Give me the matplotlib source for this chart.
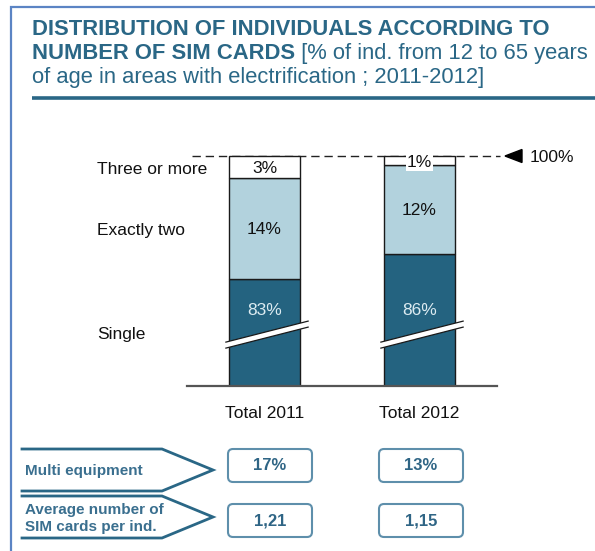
import matplotlib.pyplot as plt
from matplotlib.patches import FancyBboxPatch, Polygon

plt.rcParams['font.family'] = ['Liberation Sans', 'DejaVu Sans']

# Stacked shares (% of individuals), bottom to top
years = ["Total 2011", "Total 2012"]
single = [82.9, 86.4]
exactly_two = [14.1, 12.4]
three_plus = [3.0, 1.2]
segment_names = ["Single", "Exactly two", "Three or more"]

multi_equipment = ["17%", "13%"]
avg_sim_cards = ["1,21", "1,15"]

DARK = "#246380"
LIGHT = "#B2D2DD"
TEAL = "#2A6786"
BOX_EDGE = "#5E8FAB"

W, H = 595, 551
fig = plt.figure(figsize=(W / 100, H / 100), dpi=100)

# full-figure overlay in pixel coordinates (y down)
bg = fig.add_axes([0, 0, 1, 1])
bg.set_xlim(0, W)
bg.set_ylim(H, 0)
bg.axis("off")

# outer frame (only top and left edges are visible)
bg.plot([11, 11, W + 5], [H + 5, 7, 7], color="#5B84C4", lw=1.6, solid_joinstyle="miter")

# title
TFS = 15.8
bold_kw = dict(fontsize=TFS, fontweight="bold", color=TEAL, va="baseline")
norm_kw = dict(fontsize=TFS, color=TEAL, va="baseline")
bg.text(32, 35, "DISTRIBUTION OF INDIVIDUALS ACCORDING TO", **bold_kw)
t2 = bg.text(32, 59, "NUMBER OF SIM CARDS", **bold_kw)
bg.annotate(" [% of ind. from 12 to 65 years", xy=(1, 0), xycoords=t2,
            fontsize=TFS, color=TEAL, va="bottom", ha="left")
bg.text(32, 83, "of age in areas with electrification ; 2011-2012]", **norm_kw)
bg.plot([32, W + 5], [98, 98], color=TEAL, lw=2.6, solid_capstyle="butt")

# segment names on the left
FS = 12.5
bg.text(97, 168, segment_names[2], fontsize=FS, va="center_baseline", color="#111111")
bg.text(97, 229, segment_names[1], fontsize=FS, va="center_baseline", color="#111111")
bg.text(97, 333, segment_names[0], fontsize=FS, va="center_baseline", color="#111111")

# bar chart axes: 7.17 px per percentage point, bottom truncated
px_per_pt = 7.17
ax_top_px, ax_bot_px = 140, 386
ax_left_px, ax_right_px = 187, 497
ax = fig.add_axes([ax_left_px / W, 1 - ax_bot_px / H,
                   (ax_right_px - ax_left_px) / W, (ax_bot_px - ax_top_px) / H])
ax.set_xlim(-0.5, 1.5)
ax.set_ylim(100 - (ax_bot_px - 156) / px_per_pt, 100 + (156 - ax_top_px) / px_per_pt)
ax.axis("off")

x = list(range(len(years)))
bw = 0.46
mid = [s + t for s, t in zip(single, exactly_two)]
ax.bar(x, single, bw, color=DARK, edgecolor="#1a1a1a", lw=1.0, zorder=2)
ax.bar(x, exactly_two, bw, bottom=single, color=LIGHT, edgecolor="#1a1a1a", lw=1.0, zorder=2)
ax.bar(x, three_plus, bw, bottom=mid, color="white", edgecolor="#1a1a1a", lw=1.0, zorder=2)

# baseline
ax.axhline(ax.get_ylim()[0], color="#555555", lw=1.6, zorder=3, clip_on=False)

# 100% reference line with marker
ax.plot([-0.468, 1.52], [100, 100], color="#222222", lw=1.0, dashes=(6, 3.5), zorder=1, clip_on=False)
bg.add_patch(Polygon([[505, 156], [522, 149.5], [522, 162.5]], closed=True, color="black"))
bg.text(530, 156, "100%", fontsize=FS, va="center_baseline", color="#111111")

# value labels
single_label_y = 100 - (309 - 156) / px_per_pt
for i in x:
    ax.text(i, single_label_y, f"{single[i]:.0f}%", ha="center", va="center_baseline",
            fontsize=FS, color="#DCEBF1", zorder=5)
    ax.text(i, single[i] + exactly_two[i] / 2, f"{exactly_two[i]:.0f}%",
            ha="center", va="center_baseline", fontsize=FS, color="#111111", zorder=5)
    thin = three_plus[i] < 2
    # a thin top segment gets its label on a white patch straddling the bar top
    ax.text(i, 99.25 if thin else mid[i] + three_plus[i] / 2, f"{three_plus[i]:.0f}%",
            ha="center", va="center_baseline", fontsize=FS, color="#111111", zorder=5,
            bbox=dict(boxstyle="square,pad=0.05", fc="white", ec="none") if thin else None)

# axis-break marks across the dark segments
brk_y = 75.0
dx_l, dx_r = 38.5 / 154.5, 43.5 / 154.5
rise = 21 / px_per_pt
half = 3.0 / px_per_pt
for i in x:
    xl, xr = i - dx_l, i + dx_r
    yl, yr = brk_y - rise * dx_l / (dx_l + dx_r), brk_y + rise * dx_r / (dx_l + dx_r)
    ax.add_patch(Polygon([[xl, yl - half], [xr, yr - half], [xr, yr + half], [xl, yl + half]],
                         closed=True, fc="white", ec="none", zorder=4, clip_on=False))
    for s in (-half, half):
        ax.plot([xl, xr], [yl + s, yr + s], color="#1a1a1a", lw=0.9, zorder=4, clip_on=False)

# category labels under the bars
for i in x:
    bg.text([264.5, 419][i], 412, years[i], ha="center", va="center_baseline", fontsize=FS,
            color="#111111")


# arrow-shaped row headers
def row_header(top, bottom, lines):
    tip = (top + bottom) / 2
    bg.plot([22, 162, 213, 162, 22], [top, top, tip, bottom, bottom], color=TEAL, lw=2.0,
            solid_joinstyle="miter")
    n = len(lines)
    for k, line in enumerate(lines):
        bg.text(25, tip + (k - (n - 1) / 2) * 17.5, line, fontsize=11, fontweight="bold",
                color="#3A6F8F", va="center_baseline")


row_header(449, 491, ["Multi equipment"])
row_header(496, 538, ["Average number of", "SIM cards per ind."])


# rounded value boxes
def value_box(x0, x1, y0, y1, label):
    bg.add_patch(FancyBboxPatch((x0, y0), x1 - x0, y1 - y0, boxstyle="round,pad=0,rounding_size=5",
                                fc="white", ec=BOX_EDGE, lw=1.5))
    bg.text((x0 + x1) / 2, (y0 + y1) / 2 - 1, label, ha="center", va="center_baseline", fontsize=12,
            fontweight="bold", color="#2F6585")


for i, cx in enumerate([270, 421]):
    value_box(cx - 42, cx + 42, 449, 482, multi_equipment[i])
    value_box(cx - 42, cx + 42, 504, 537, avg_sim_cards[i])

fig.savefig("out.png", dpi=100)
